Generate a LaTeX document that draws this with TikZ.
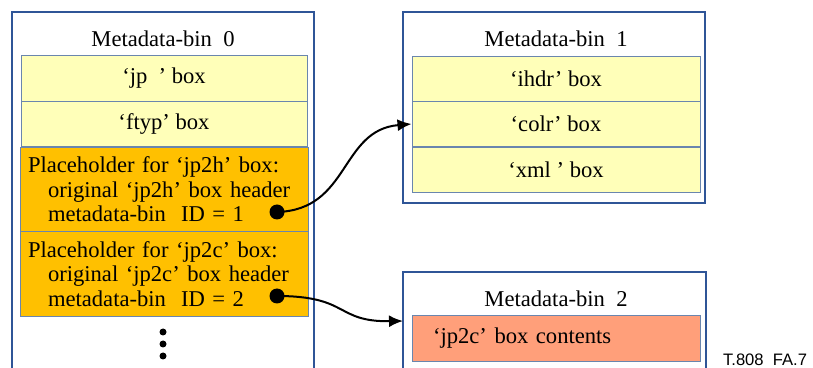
\documentclass[tikz,border=0pt]{standalone}
\usepackage{fontspec}
\setmainfont{Liberation Serif}
\newfontfamily\figfont{Liberation Sans}
\usetikzlibrary{arrows.meta}

\definecolor{binblue}{HTML}{2F5597}
\definecolor{rowblue}{HTML}{6A86AE}
\definecolor{paleyellow}{HTML}{FFFFB9}
\definecolor{amber}{HTML}{FFC000}
\definecolor{salmon}{HTML}{FF9F7A}

\tikzset{
  bin/.style={draw=binblue, line width=1pt, inner sep=0pt},
  row/.style={draw=rowblue, line width=0.5pt, fill=paleyellow, inner sep=0pt,
    minimum width=144pt, minimum height=22.75pt},
  holder/.style={row, fill=amber, minimum height=42.25pt, text width=136pt,
    inner xsep=3.5pt, align=left},
  dot/.style={circle, fill=black, inner sep=0pt, minimum size=7.5pt},
  conn/.style={line width=1pt, -{Latex[length=7pt,width=6pt]}},
}

\begin{document}
\begin{tikzpicture}[x=0.5pt, y=-0.5pt, font=\fontsize{11.3}{12.3}\selectfont]
\useasboundingbox (0,0) rectangle (813,368);
\clip (0,0) rectangle (813,368);

% Metadata-bin 0
\node [bin, minimum width=151pt, minimum height=200pt] (bin0) at (163,212) {};
\node at (163,39) {Metadata-bin\ \ 0};
\node [row, minimum width=143pt] (jp) at (164,78.5) {`jp\ \ ' box};
\node [row, minimum width=143pt] (ftyp) at (164,124) {`ftyp' box};
\node [holder] (jp2h) at (164,189.5)
  {Placeholder for `jp2h' box:\\
   \hspace*{10pt}original\ `jp2h'\ box header\\
   \hspace*{10pt}metadata-bin\ \ ID = 1};
\node [holder] (jp2c) at (164,274)
  {Placeholder for `jp2c' box:\\
   \hspace*{10pt}original\ `jp2c' box header\\
   \hspace*{10pt}metadata-bin\ \ ID = 2};
\node [dot] (ref1) at (277,212) {};
\node [dot] (ref2) at (277,296) {};
\foreach \y in {332,344,356}
  \fill (163,\y) circle [radius=1.75pt];

% Metadata-bin 1
\node [bin, minimum width=151pt, minimum height=95.5pt] (bin1) at (554,107.5) {};
\node at (556,39) {Metadata-bin\ \ 1};
\node [row] (ihdr) at (556,79) {`ihdr' box};
\node [row] (colr) at (556,124) {`colr' box};
\node [row] (xml) at (556,170) {`xml\ ' box};

% Metadata-bin 2
\node [bin, minimum width=151.5pt, minimum height=74pt] (bin2) at (554.5,346) {};
\node at (556,299) {Metadata-bin\ \ 2};
\node [row, fill=salmon, text width=123pt, inner xsep=10.5pt, align=left]
  (contents) at (556,338.5) {`jp2c' box contents};
\coordinate (bin2in) at (403,321);

% references
\draw [conn] (ref1.center) .. controls (350,210) and (340,130) .. (colr.west);
\draw [conn] (ref2.center) .. controls (350,296) and (335,322) .. (bin2in);

\node [anchor=west, font=\figfont\fontsize{8.3}{10}\selectfont] (figid) at (716,360) {T.808\ \ FA.7};
\end{tikzpicture}
\end{document}
